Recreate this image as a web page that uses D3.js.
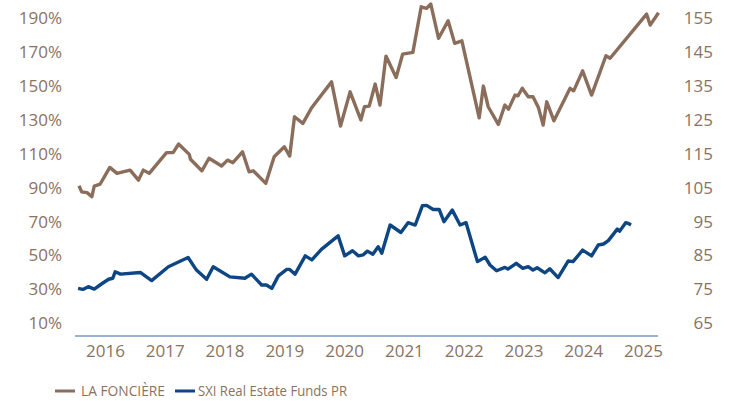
<!DOCTYPE html>
<html><head><meta charset="utf-8">
<script src="https://cdn.jsdelivr.net/npm/d3@7"></script>
<style>body{margin:0;background:#fff}svg{display:block}text{font-family:"Open Sans",sans-serif;fill:#8a7262}</style>
</head><body><svg id="c" width="729" height="401"></svg>
<script>
const leftTicks = [10,30,50,70,90,110,130,150,170,190];
const rightTicks = [65,75,85,95,105,115,125,135,145,155];
const yearTicks = [2016,2017,2018,2019,2020,2021,2022,2023,2024,2025];
const seriesNames = ["LA FONCIÈRE","SXI Real Estate Funds PR"];
const foncDates = [2015.565,2015.61,2015.70,2015.78,2015.82,2015.92,2016.08,2016.20,2016.42,2016.56,2016.64,2016.74,2017.03,2017.14,2017.23,2017.41,2017.43,2017.62,2017.74,2017.95,2018.05,2018.14,2018.30,2018.41,2018.48,2018.69,2018.83,2019.00,2019.09,2019.17,2019.31,2019.46,2019.79,2019.94,2020.10,2020.28,2020.34,2020.42,2020.52,2020.60,2020.70,2020.87,2020.98,2021.15,2021.29,2021.38,2021.45,2021.58,2021.74,2021.85,2021.97,2022.26,2022.33,2022.41,2022.58,2022.69,2022.75,2022.86,2022.91,2022.98,2023.08,2023.16,2023.25,2023.33,2023.39,2023.51,2023.78,2023.84,2023.99,2024.14,2024.38,2024.45,2025.06,2025.12,2025.26];
const foncValues = [91.2,87.6,87.1,84.7,91.0,92.2,102.0,98.5,100.4,94.5,100.4,98.5,110.7,110.7,115.8,109.7,106.8,100.0,107.4,102.8,106.3,104.8,111.2,99.4,100.0,92.6,108.3,114.2,108.7,131.9,128.0,137.4,152.5,126.4,146.6,130.0,137.8,138.2,151.2,138.8,167.7,155.1,168.9,169.9,196.8,195.9,198.4,178.2,188.5,175.2,176.7,131.3,150.0,137.8,127.4,138.8,136.4,144.7,144.3,148.7,143.7,143.7,137.4,127.0,140.7,129.5,148.7,147.2,159.0,144.7,167.9,166.4,192.5,186.0,193.3];
const sxiDates = [2015.55,2015.63,2015.72,2015.82,2015.94,2016.06,2016.13,2016.17,2016.26,2016.59,2016.78,2017.06,2017.39,2017.53,2017.70,2017.81,2018.09,2018.34,2018.45,2018.62,2018.70,2018.79,2018.90,2019.04,2019.09,2019.18,2019.35,2019.46,2019.62,2019.90,2020.01,2020.14,2020.24,2020.32,2020.39,2020.48,2020.57,2020.63,2020.77,2020.95,2021.07,2021.19,2021.31,2021.38,2021.49,2021.59,2021.67,2021.81,2021.94,2022.04,2022.23,2022.36,2022.44,2022.55,2022.69,2022.74,2022.88,2022.99,2023.08,2023.16,2023.23,2023.36,2023.44,2023.58,2023.75,2023.83,2023.99,2024.14,2024.25,2024.34,2024.42,2024.57,2024.61,2024.71,2024.75,2024.80];
const sxiValues = [75.3,75.0,75.8,75.1,76.6,78.0,78.3,80.2,79.5,80.0,77.6,81.7,84.4,80.7,78.0,81.7,78.7,78.3,79.5,76.3,76.3,75.3,79.0,80.9,80.9,79.5,84.9,83.7,86.8,90.8,84.9,86.4,84.9,85.2,86.3,85.4,87.6,85.7,94.0,91.8,94.7,94.0,99.7,99.8,98.6,98.6,95.0,98.4,94.0,94.7,83.2,84.5,82.2,80.5,81.5,81.0,82.7,81.2,81.7,80.7,81.4,79.9,81.1,78.5,83.4,83.2,86.6,84.9,88.1,88.4,89.4,92.8,92.2,94.7,94.5,94.0];

const svg = d3.select("#c");
const x = d3.scaleLinear().domain([2016,2025]).range([105,643]);
const yL = d3.scaleLinear().domain([10,190]).range([323.3,18.3]);
const yR = d3.scaleLinear().domain([65,155]).range([323.3,18.3]);
const brown = "#8a6e5b", navy = "#0d4683", txt = "#8a7262";

svg.append("g").attr("transform","translate(62,0)")
  .call(d3.axisLeft(yL).tickValues(leftTicks).tickSize(0).tickPadding(0).tickFormat(d=>d+"%"))
  .call(g=>g.select(".domain").remove())
  .call(g=>g.selectAll("text").attr("font-size",17).style("fill",txt).attr("font-family","Open Sans"));
svg.append("g").attr("transform","translate(713,0)")
  .call(d3.axisLeft(yR).tickValues(rightTicks).tickSize(0).tickPadding(0).tickFormat(d3.format("d")))
  .call(g=>g.select(".domain").remove())
  .call(g=>g.selectAll("text").attr("font-size",17).style("fill",txt).attr("font-family","Open Sans"));
svg.append("line").attr("x1",75).attr("x2",658).attr("y1",336).attr("y2",336)
  .attr("stroke","#2f68a5").attr("stroke-width",1.2);
svg.append("g").attr("transform","translate(0,336)")
  .call(d3.axisBottom(x).tickValues(yearTicks).tickSize(0).tickPadding(6).tickFormat(d3.format("d")))
  .call(g=>g.select(".domain").remove())
  .call(g=>g.selectAll("text").attr("font-size",17).style("fill",txt).attr("font-family","Open Sans").attr("dy","0.9em"));

const fonc = foncDates.map((d,i)=>[d,foncValues[i]]);
const sxi = sxiDates.map((d,i)=>[d,sxiValues[i]]);
svg.append("path").datum(fonc).attr("fill","none").attr("stroke",brown).attr("stroke-width",3.4)
  .attr("stroke-linejoin","round").attr("d",d3.line().x(d=>x(d[0])).y(d=>yL(d[1])));
svg.append("path").datum(sxi).attr("fill","none").attr("stroke",navy).attr("stroke-width",3.4)
  .attr("stroke-linejoin","round").attr("d",d3.line().x(d=>x(d[0])).y(d=>yR(d[1])));

const leg = svg.append("g").attr("transform","translate(0,391)");
const items = [{name:seriesNames[0],c:brown,x0:55,tx:81,w:84},{name:seriesNames[1],c:navy,x0:175,tx:198,w:149}];
items.forEach(it=>{
  leg.append("line").attr("x1",it.x0).attr("x2",it.x0+20).attr("y1",0).attr("y2",0).attr("stroke",it.c).attr("stroke-width",3);
  leg.append("text").attr("x",it.tx).attr("y",5).attr("font-size",15).attr("textLength",it.w)
    .attr("lengthAdjust","spacingAndGlyphs").style("fill",txt).text(it.name);
});
</script></body></html>
